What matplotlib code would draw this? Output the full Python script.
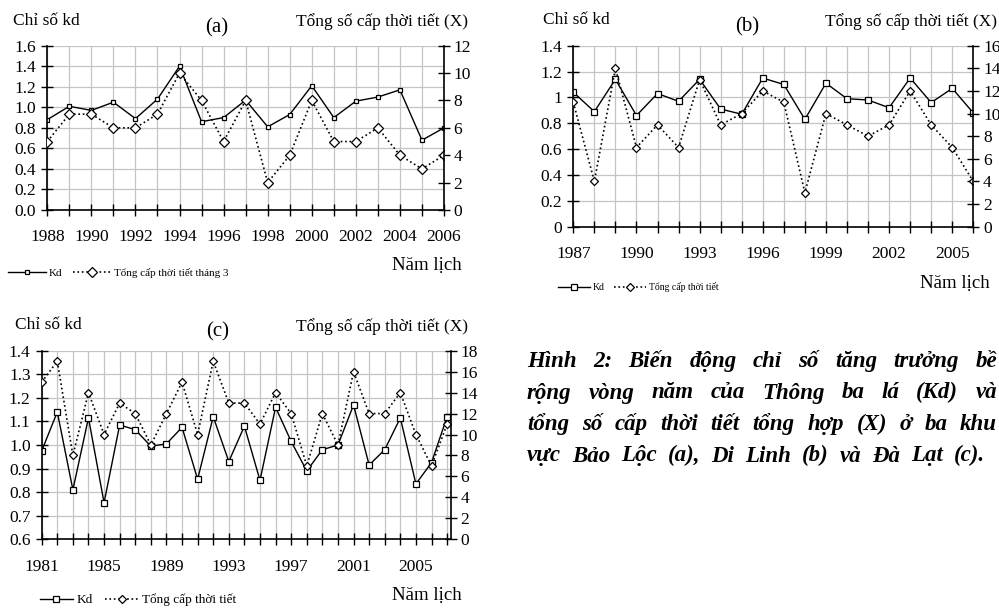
#! /usr/bin/env python3
# -*- coding: utf-8 -*-

import numpy as np
import matplotlib
matplotlib.use("Agg")
import matplotlib.pyplot as plt
from matplotlib.ticker import MultipleLocator, FixedLocator

plt.rcParams["font.family"] = ["Liberation Serif", "DejaVu Serif"]

# (a) Bảo Lộc
years_a = list(range(1988, 2007))
kd_a = [0.88, 1.01, 0.97, 1.05, 0.89, 1.08, 1.40, 0.86, 0.90, 1.07,
        0.81, 0.93, 1.21, 0.90, 1.06, 1.10, 1.17, 0.68, 0.80]
x_a = [5, 7, 7, 6, 6, 7, 10, 8, 5, 8, 2, 4, 8, 5, 5, 6, 4, 3, 4]

# (b) Di Linh
years_b = list(range(1987, 2007))
kd_b = [1.04, 0.89, 1.14, 0.86, 1.03, 0.97, 1.14, 0.91, 0.87, 1.15,
        1.10, 0.83, 1.11, 0.99, 0.98, 0.92, 1.15, 0.96, 1.07, 0.88]
x_b = [11, 4, 14, 7, 9, 7, 13, 9, 10, 12, 11, 3, 10, 9, 8, 9, 12, 9, 7, 4]

# (c) Đà Lạt
years_c = list(range(1981, 2008))
kd_c = [0.975, 1.14, 0.81, 1.115, 0.755, 1.085, 1.065, 0.995, 1.005, 1.075,
        0.855, 1.12, 0.93, 1.08, 0.85, 1.16, 1.015, 0.89, 0.98, 1.0,
        1.17, 0.915, 0.98, 1.115, 0.835, 0.925, 1.12]
x_c = [15, 17, 8, 14, 10, 13, 12, 9, 12, 15, 10, 17, 13, 13, 11, 14, 12, 7,
       12, 9, 16, 12, 12, 14, 10, 7, 11]

caption = [
    "Hình 2: Biến động chỉ số tăng trưởng bề",
    "rộng vòng năm của Thông ba lá (Kd) và",
    "tổng số cấp thời tiết tổng hợp (X) ở ba khu",
    "vực Bảo Lộc (a), Di Linh (b) và Đà Lạt (c).",
]

W, H = 999, 610
fig = plt.figure(figsize=(W / 100, H / 100), dpi=100)


def rect(l, r, t, b):
    return [l / W, 1 - b / H, (r - l) / W, (b - t) / H]


def ftext(x, y, s, **kw):
    return fig.text(x / W, 1 - y / H, s, **kw)


def panel(box, years, kd, xs, ylim, ystep, y2lim, lab_step, xmax, ylabfmt,
          sq_ms, dm_ms, leg_label, leg_pos, leg_fs, handlelen):
    ax = fig.add_axes(rect(*box))
    ax2 = ax.twinx()
    l1, = ax.plot(years, kd, "-", color="black", lw=1.0, marker="s",
                  ms=sq_ms, mfc="white", mec="black", mew=0.9, label="Kd")
    l2, = ax2.plot(years, xs, ":", color="black", lw=1.2, marker="D",
                   ms=dm_ms, mfc="white", mec="black", mew=0.9, label=leg_label)
    ax.set_xlim(years[0], xmax)
    ax.set_ylim(*ylim)
    ax2.set_ylim(*y2lim)
    ax.yaxis.set_major_locator(MultipleLocator(ystep))
    ax.yaxis.set_major_formatter(ylabfmt)
    ax2.yaxis.set_major_locator(MultipleLocator(2))
    ax.xaxis.set_major_locator(FixedLocator(years))
    ax.set_xticklabels([str(y) if (y - years[0]) % lab_step == 0 else ""
                        for y in years])
    ax.grid(True, color="#c4c4c4", lw=0.9)
    ax.set_axisbelow(True)
    for a in (ax, ax2):
        a.spines["top"].set_visible(False)
        a.tick_params(direction="inout", length=8, width=1.0, labelsize=12.5,
                      pad=3)
        for s in ("left", "right", "bottom"):
            a.spines[s].set_linewidth(1.2)
    ax.spines["right"].set_visible(False)
    ax2.spines["left"].set_visible(False)
    ax2.spines["bottom"].set_visible(False)
    ax.tick_params(axis="x", pad=10)
    ax.tick_params(axis="y", pad=4)
    fig.legend([l1, l2], ["Kd", leg_label], loc="center left",
               bbox_to_anchor=(leg_pos[0] / W, 1 - leg_pos[1] / H),
               ncol=2, frameon=False, fontsize=leg_fs,
               handlelength=handlelen, handletextpad=0.3, columnspacing=0.9,
               borderpad=0, borderaxespad=0)
    return ax


fmt1 = lambda v, p: "%.1f" % v
fmtb = lambda v, p: ("%g" % round(v, 1))

panel((47.3, 444, 45.7, 210), years_a, kd_a, x_a, (0, 1.6), 0.2, (0, 12), 2,
      2006, fmt1, 2.8, 4.6, "Tổng cấp thời tiết tháng 3", (8, 273), 8, 3.4)
panel((573.3, 973.3, 45.7, 226.7), years_b, kd_b, x_b, (0, 1.4), 0.2, (0, 16),
      3, 2006, fmtb, 5, 3.6, "Tổng cấp thời tiết", (558, 287), 7, 3.3)
panel((41.7, 451, 350.7, 539.3), years_c, kd_c, x_c, (0.6, 1.4), 0.1, (0, 18),
      4, 2007.25, fmt1, 5, 3.6, "Tổng cấp thời tiết", (40, 600), 9.5, 2.5)

# panel titles and axis captions
for (lx, ly, tx, ty, rx, ry, nx, ny, tag) in [
        (13, 21, 217, 28, 468, 22, 462, 265, "(a)"),
        (543, 20, 747, 27, 997, 22, 990, 283, "(b)"),
        (15, 325, 218, 332, 468, 327, 462, 595, "(c)")]:
    ftext(lx, ly, "Chỉ số kd", fontsize=12.5, ha="left", va="center")
    ftext(tx, ty, tag, fontsize=15, ha="center", va="center")
    ftext(rx, ry, "Tổng số cấp thời tiết (X)", fontsize=12.5, ha="right",
          va="center")
    ftext(nx, ny, "Năm lịch", fontsize=13.5, ha="right", va="center")

# caption: justified lines, words spread between left and right edges
renderer = fig.canvas.get_renderer()
left = 527
rights = [997, 997, 997, 985]
for i, line in enumerate(caption):
    y = 367 + i * 31.5
    words = line.split()
    texts = [ftext(0, y, w, fontsize=16.5, fontweight="bold",
                   fontstyle="italic", ha="left", va="baseline")
             for w in words]
    widths = [t.get_window_extent(renderer).width for t in texts]
    gap = (rights[i] - left - sum(widths)) / (len(words) - 1)
    x = left
    for t, wd in zip(texts, widths):
        t.set_position((x / W, 1 - y / H))
        x += wd + gap

fig.savefig("out.png", dpi=100)
